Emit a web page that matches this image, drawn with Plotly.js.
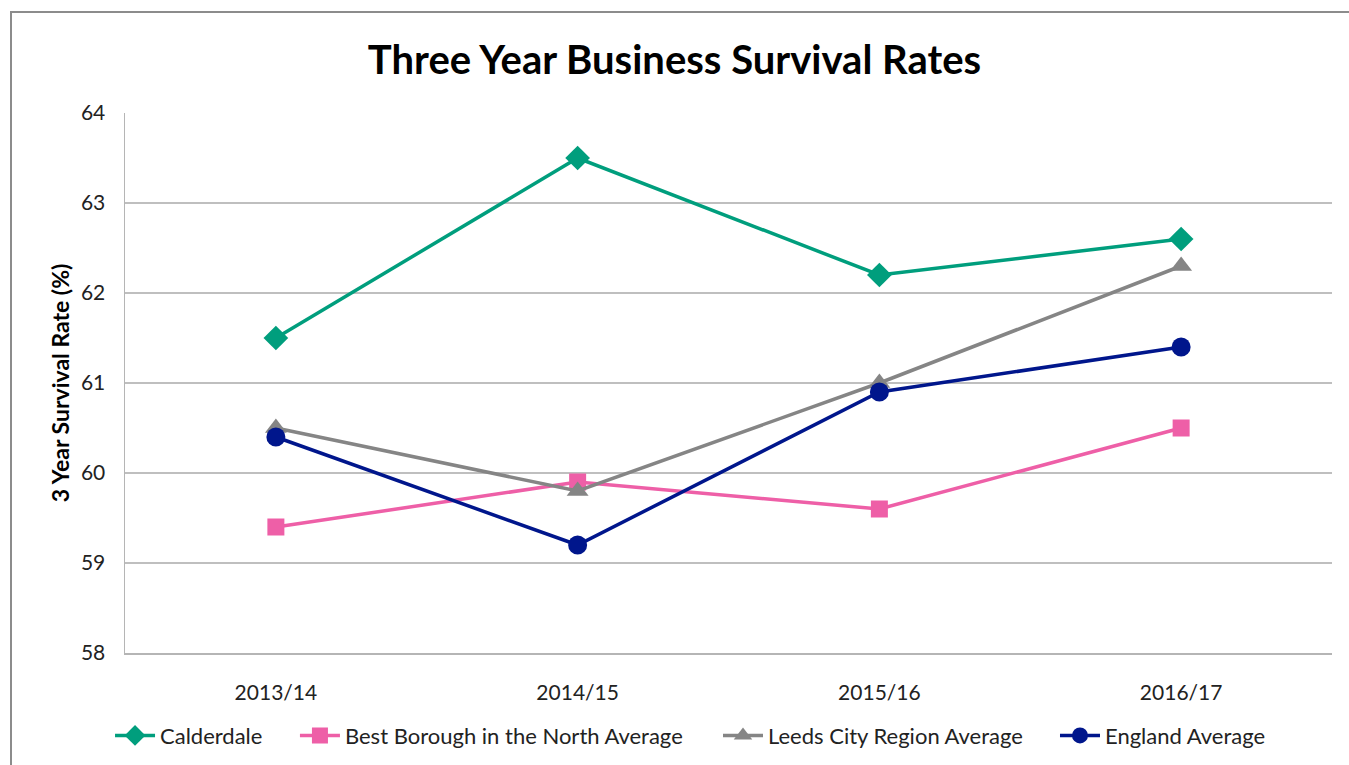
<!DOCTYPE html>
<html>
<head>
<meta charset="utf-8">
<script src="https://cdn.plot.ly/plotly-3.0.1.min.js"></script>
<style>
  html, body { margin: 0; padding: 0; background: #fff; overflow: hidden; }
  #chart { width: 1349px; height: 765px; }
  #frame { position: absolute; left: 10px; top: 11px; width: 1400px; height: 800px;
           border: 2px solid #8c8c8c; pointer-events: none; }
</style>
</head>
<body>
<div id="chart"></div>
<div id="frame"></div>
<script>
const years = ["2013/14", "2014/15", "2015/16", "2016/17"];
const calderdale = [61.5, 63.5, 62.2, 62.6];
const bestBorough = [59.4, 59.9, 59.6, 60.5];
const leedsCityRegion = [60.5, 59.8, 61.0, 62.3];
const englandAverage = [60.4, 59.2, 60.9, 61.4];
const yTicks = [58, 59, 60, 61, 62, 63, 64];

const FONT = "Lato, Calibri, Carlito, 'Open Sans', sans-serif";

function series(name, y, color, symbol, size, legendId) {
  return {
    type: "scatter", mode: "lines+markers", name: name,
    x: years, y: y, legend: legendId,
    line: { color: color, width: 3.5 },
    marker: { color: color, symbol: symbol, size: size }
  };
}

const data = [
  series("Calderdale", calderdale, "#009E7D", "diamond", 19, "legend"),
  series("Best Borough in the North Average", bestBorough, "#EE5FA7", "square", 17, "legend2"),
  series("Leeds City Region Average", leedsCityRegion, "#858585", "triangle-up", 19, "legend3"),
  series("England Average", englandAverage, "#00168C", "circle", 19, "legend4")
];

function legendAt(x) {
  return {
    orientation: "h", x: x, xanchor: "left", y: -0.153, yanchor: "middle",
    font: { family: FONT, size: 22, color: "#222" },
    bgcolor: "rgba(0,0,0,0)", itemwidth: 40
  };
}

const layout = {
  width: 1349, height: 765,
  paper_bgcolor: "#fff", plot_bgcolor: "#fff",
  margin: { l: 125, r: 17, t: 113, b: 112, autoexpand: false },
  font: { family: FONT, size: 21, color: "#222" },
  title: {
    text: "<b>Three Year Business Survival Rates</b>",
    font: { family: FONT, size: 40, color: "#000" },
    x: 0.5, xanchor: "center", y: 0.921, yanchor: "middle"
  },
  xaxis: {
    type: "category", tickvals: years, ticktext: years,
    range: [-0.5, 3.5],
    showgrid: false, showline: true, linecolor: "#b5b5b5", linewidth: 1.5,
    ticks: "", ticklabelstandoff: 20, tickfont: { family: FONT, size: 21, color: "#222" },
    zeroline: false, fixedrange: true
  },
  yaxis: {
    range: [58, 64], tickvals: yTicks, ticktext: yTicks.map(String),
    showgrid: true, gridcolor: "#bfbfbf", gridwidth: 1.2,
    showline: true, linecolor: "#b5b5b5", linewidth: 1.5,
    ticks: "", ticklabelstandoff: 14, tickfont: { family: FONT, size: 21, color: "#222" },
    title: { text: "<b>3 Year Survival Rate (%)</b>", font: { family: FONT, size: 23, color: "#000" }, standoff: 5 },
    zeroline: false, fixedrange: true
  },
  showlegend: true,
  legend: legendAt(-0.0124),
  legend2: legendAt(0.1408),
  legend3: legendAt(0.4913),
  legend4: legendAt(0.7705)
};

Plotly.newPlot("chart", data, layout, { displayModeBar: false, staticPlot: true });
</script>
</body>
</html>
